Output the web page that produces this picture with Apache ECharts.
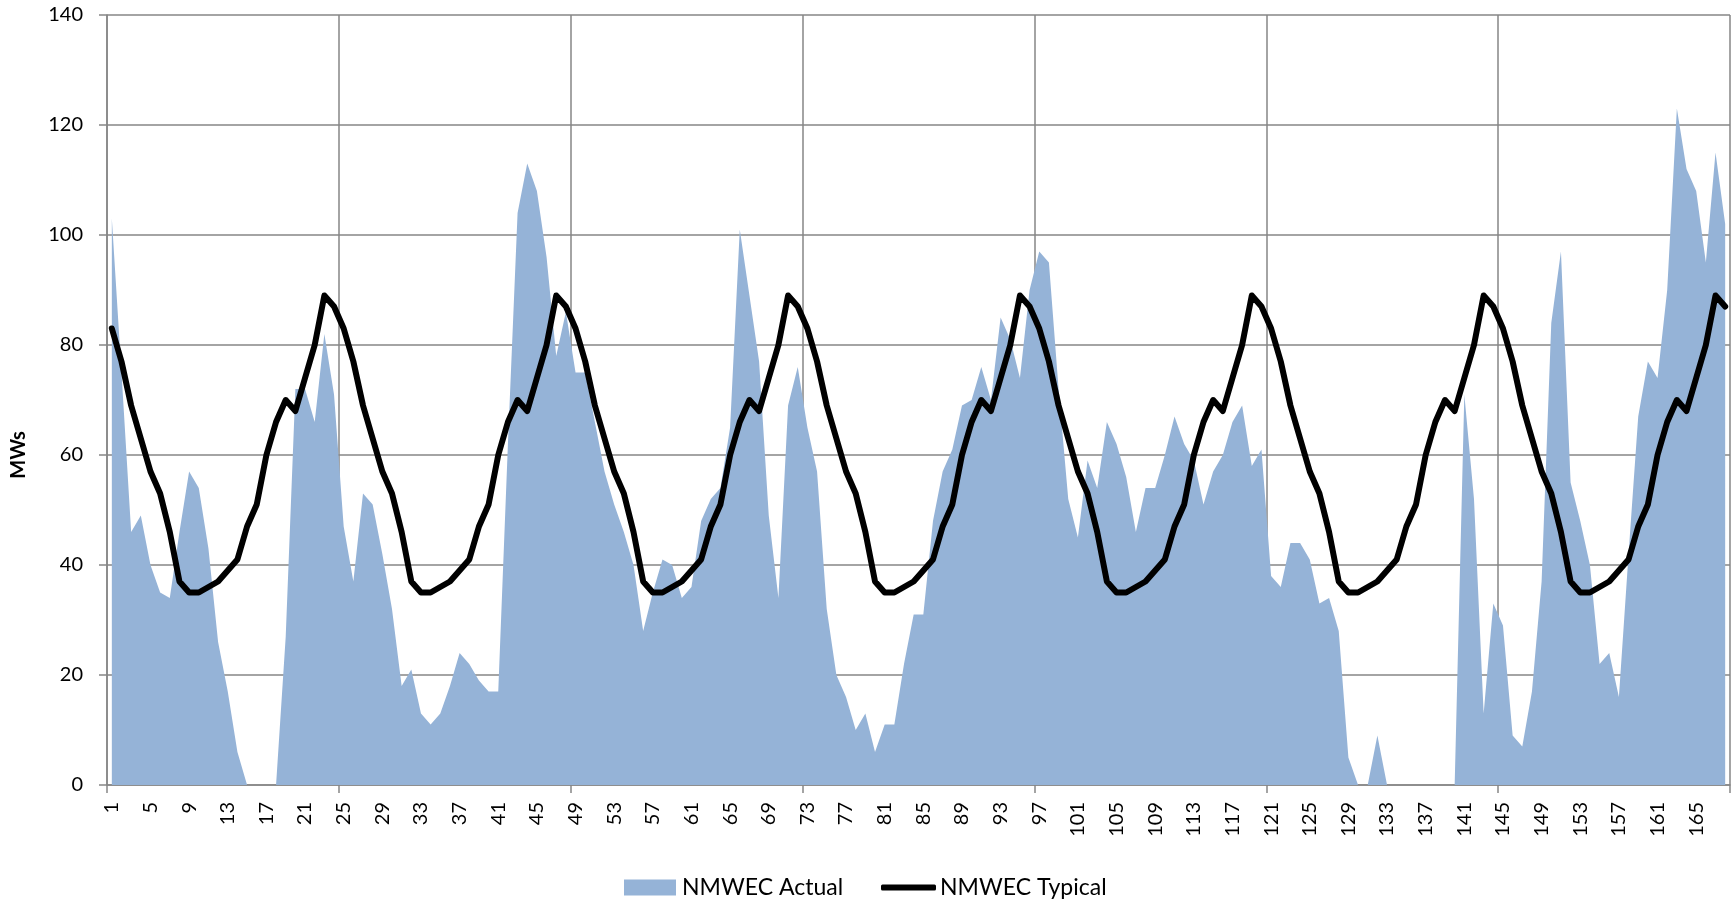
<!DOCTYPE html>
<html>
<head>
<meta charset="utf-8">
<script src="https://cdn.jsdelivr.net/npm/echarts@6/dist/echarts.min.js"></script>
<style>
html,body{margin:0;padding:0;background:#fff;}
#chart{width:1734px;height:900px;}
</style>
</head>
<body>
<div id="chart"></div>
<script>
// Hours 1..168
var hours = [
  1,2,3,4,5,6,7,8,9,10,11,12,13,14,15,16,17,18,19,20,21,22,23,24,
  25,26,27,28,29,30,31,32,33,34,35,36,37,38,39,40,41,42,43,44,45,46,47,48,
  49,50,51,52,53,54,55,56,57,58,59,60,61,62,63,64,65,66,67,68,69,70,71,72,
  73,74,75,76,77,78,79,80,81,82,83,84,85,86,87,88,89,90,91,92,93,94,95,96,
  97,98,99,100,101,102,103,104,105,106,107,108,109,110,111,112,113,114,115,116,117,118,119,120,
  121,122,123,124,125,126,127,128,129,130,131,132,133,134,135,136,137,138,139,140,141,142,143,144,
  145,146,147,148,149,150,151,152,153,154,155,156,157,158,159,160,161,162,163,164,165,166,167,168
];

var actual = [
  103,75,46,49,40,35,34,46,57,54,43,26,17,6,0,0,0,0,27,72,72,66,82,71,
  47,37,53,51,42,32,18,21,13,11,13,18,24,22,19,17,17,62,104,113,108,96,78,86,
  75,75,66,57,51,46,40,28,35,41,40,34,36,48,52,54,65,101,89,77,49,34,69,76,
  65,57,32,20,16,10,13,6,11,11,22,31,31,48,57,61,69,70,76,70,85,81,74,90,
  97,95,72,52,45,59,54,66,62,56,46,54,54,60,67,62,59,51,57,60,66,69,58,61,
  38,36,44,44,41,33,34,28,5,0,0,9,0,0,0,0,0,0,0,0,71,52,13,33,
  29,9,7,17,37,84,97,55,48,40,22,24,16,42,67,77,74,90,123,112,108,95,115,102
];

var typical = [
  83,77,69,63,57,53,46,37,35,35,36,37,39,41,47,51,60,66,70,68,74,80,89,87,
  83,77,69,63,57,53,46,37,35,35,36,37,39,41,47,51,60,66,70,68,74,80,89,87,
  83,77,69,63,57,53,46,37,35,35,36,37,39,41,47,51,60,66,70,68,74,80,89,87,
  83,77,69,63,57,53,46,37,35,35,36,37,39,41,47,51,60,66,70,68,74,80,89,87,
  83,77,69,63,57,53,46,37,35,35,36,37,39,41,47,51,60,66,70,68,74,80,89,87,
  83,77,69,63,57,53,46,37,35,35,36,37,39,41,47,51,60,66,70,68,74,80,89,87,
  83,77,69,63,57,53,46,37,35,35,36,37,39,41,47,51,60,66,70,68,74,80,89,87
];

var seriesNames = ['NMWEC Actual', 'NMWEC Typical'];
var yAxisTitle = 'MWs';

var FONT = 'Lato, "Open Sans", sans-serif';
var GRID = '#868686';

var chart = echarts.init(document.getElementById('chart'), null, {renderer: 'canvas'});
chart.setOption({
  animation: false,
  backgroundColor: '#ffffff',
  textStyle: {fontFamily: FONT},
  grid: {left: 107, right: 4, top: 15, bottom: 115, containLabel: false},
  legend: [
    {
      data: [seriesNames[0]],
      left: 619, top: 871,
      icon: 'rect', itemWidth: 52, itemHeight: 16, itemGap: 0,
      textStyle: {fontFamily: FONT, fontSize: 23, color: '#000', padding: [0, 0, 0, 1]}
    },
    {
      data: [seriesNames[1]],
      left: 876, top: 871,
      icon: 'roundRect', itemWidth: 55, itemHeight: 6, itemGap: 0,
      textStyle: {fontFamily: FONT, fontSize: 23, color: '#000', padding: [0, 0, 0, -1]}
    }
  ],
  graphic: [{
    type: 'text',
    x: 19, y: 455,
    rotation: Math.PI / 2,
    style: {text: yAxisTitle, font: 'bold 20px ' + FONT, fill: '#000', align: 'center', verticalAlign: 'middle'}
  }],
  xAxis: {
    type: 'category',
    data: hours,
    boundaryGap: true,
    axisLine: {lineStyle: {color: GRID, width: 1.5}},
    axisTick: {show: true, interval: 23, length: 8, lineStyle: {color: GRID, width: 1.5}},
    splitLine: {show: true, interval: 23, lineStyle: {color: GRID, width: 1.5}},
    axisLabel: {interval: 3, rotate: 90, margin: 17, fontSize: 20, color: '#000', fontFamily: FONT}
  },
  yAxis: {
    type: 'value',
    min: 0, max: 140, interval: 20,
    axisLine: {show: true, lineStyle: {color: GRID, width: 1.5}},
    axisTick: {show: true, length: 8, lineStyle: {color: GRID, width: 1.5}},
    splitLine: {show: true, lineStyle: {color: GRID, width: 1.5}},
    axisLabel: {margin: 24, fontSize: 20, color: '#000', fontFamily: FONT}
  },
  series: [
    {
      name: seriesNames[0],
      type: 'line',
      data: actual,
      symbol: 'none',
      lineStyle: {width: 0, color: '#95B3D7'},
      itemStyle: {color: '#95B3D7'},
      areaStyle: {color: '#95B3D7', opacity: 1},
      z: 1
    },
    {
      name: seriesNames[1],
      type: 'line',
      data: typical,
      symbol: 'none',
      lineStyle: {width: 6, color: '#000', cap: 'round', join: 'round'},
      itemStyle: {color: '#000'},
      z: 3
    }
  ]
});
</script>
</body>
</html>
